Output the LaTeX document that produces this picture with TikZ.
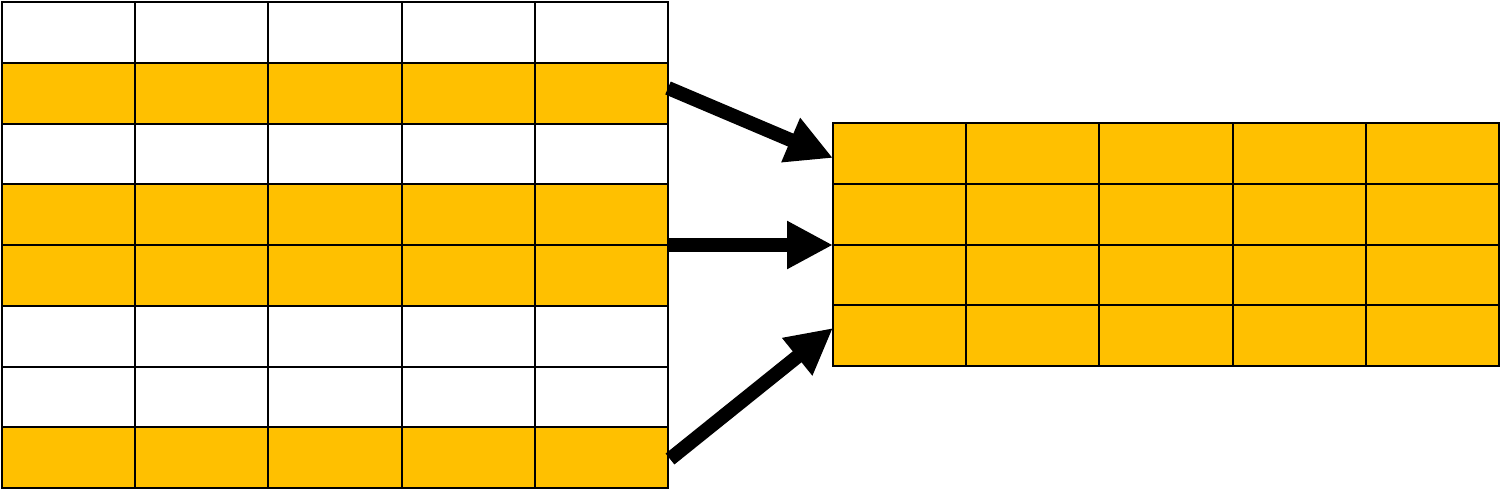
\documentclass[tikz,border=0pt]{standalone}
\usetikzlibrary{arrows.meta}
\definecolor{gold}{HTML}{FFC000}
\begin{document}
\begin{tikzpicture}[x=1pt,y=-1pt,
  cell/.style={draw=black,line width=2pt,minimum width=133.2pt,minimum height=60.75pt,inner sep=0pt,outer sep=0pt},
  hot/.style={cell,fill=gold},
  plain/.style={cell,fill=white},
  bigarrow/.style={line width=14pt,-{Triangle[length=46pt,width=45pt]}}]
\useasboundingbox (0,0) rectangle (1502,490);
% left table
\foreach \r/\s in {1/plain,2/hot,3/plain,4/hot,5/hot,6/plain,7/plain,8/hot}{
  \foreach \c in {1,...,5}{
    \node[\s] (L-\r-\c) at ({2+133.2*(\c-0.5)},{2+60.75*(\r-0.5)}) {};
  }
}
% right table
\foreach \r in {1,...,4}{
  \foreach \c in {1,...,5}{
    \node[hot] (R-\r-\c) at ({833+133.2*(\c-0.5)},{123+60.75*(\r-0.5)}) {};
  }
}
\coordinate (s1) at (668,88);
\coordinate (t1) at (833,158);
\coordinate (s2) at (668,245);
\coordinate (t2) at (833,245);
\coordinate (s3) at (670,459);
\coordinate (t3) at (833,328);
\draw[bigarrow] (s1) -- (t1);
\draw[bigarrow] (s2) -- (t2);
\draw[bigarrow] (s3) -- (t3);
\end{tikzpicture}
\end{document}
